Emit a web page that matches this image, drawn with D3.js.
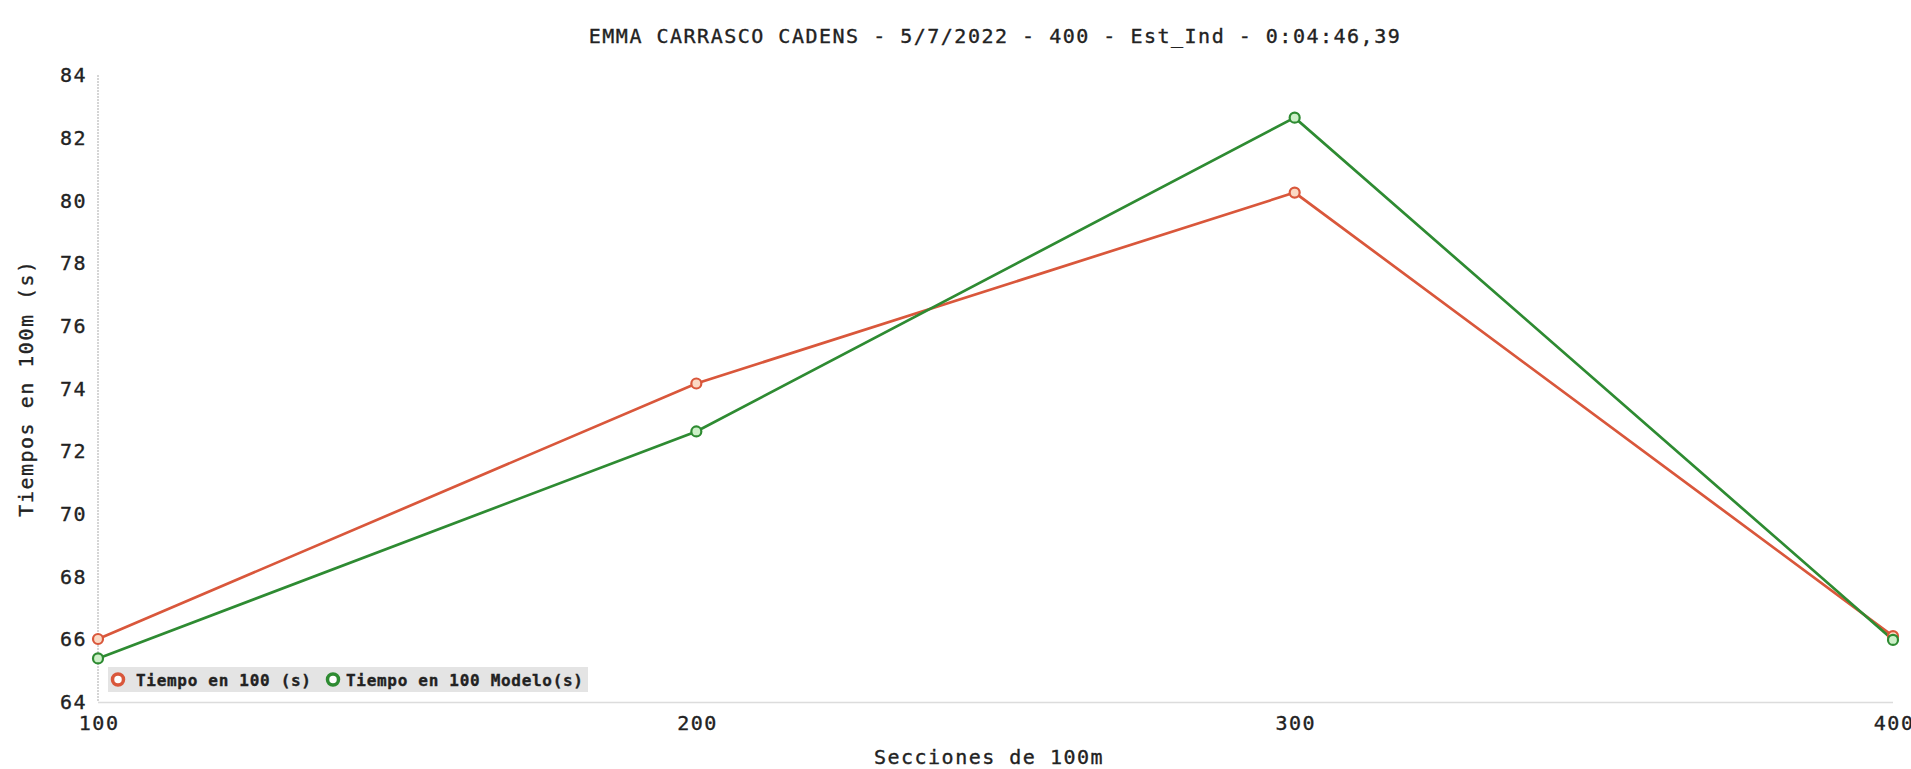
<!DOCTYPE html>
<html>
<head>
<meta charset="utf-8">
<script src="https://cdn.jsdelivr.net/npm/d3@7"></script>
<style>
  html, body { margin: 0; padding: 0; background: #fff; }
  svg { display: block; }
  text { font-family: "DejaVu Sans Mono", monospace; fill: #222; stroke: #222; stroke-width: 0.35px; }
</style>
</head>
<body>
<svg id="chart" width="1911" height="769"></svg>
<script>
const title = "EMMA CARRASCO CADENS - 5/7/2022 - 400 - Est_Ind - 0:04:46,39";
const sections = [100, 200, 300, 400];
const tiempo = [66.01, 74.16, 80.25, 66.1];
const tiempoModelo = [65.39, 72.63, 82.64, 65.98];
const yTicks = [64, 66, 68, 70, 72, 74, 76, 78, 80, 82, 84];
const seriesNames = ["Tiempo en 100 (s)", "Tiempo en 100 Modelo(s)"];
const xLabel = "Secciones de 100m";
const yLabel = "Tiempos en 100m (s)";

const colors = ["#d9573b", "#2e8b32"];
const fills = ["#fbd9c4", "#cdf0c8"];

const svg = d3.select("#chart");
const x = d3.scaleLinear().domain([100, 400]).range([98, 1893]);
const y = d3.scaleLinear().domain([64, 84]).range([702, 75]);

// title
svg.append("text").attr("x", 995).attr("y", 43).attr("text-anchor", "middle")
  .style("font-size", "20px").style("letter-spacing", "1.5px").text(title);

// axes lines
svg.append("line").attr("x1", x(100)).attr("x2", x(100)).attr("y1", y(84)).attr("y2", y(64))
  .attr("stroke", "#c8c8c8").attr("stroke-width", 1.5).attr("stroke-dasharray", "2,1");
svg.append("line").attr("x1", x(100)).attr("x2", x(400)).attr("y1", y(64) + 0.5).attr("y2", y(64) + 0.5)
  .attr("stroke", "#dcdcdc").attr("stroke-width", 1.5);

// y axis ticks
const yAxis = d3.axisLeft(y).tickValues(yTicks).tickSize(0).tickPadding(11).tickFormat(d3.format("d"));
const gy = svg.append("g").attr("transform", `translate(${x(100)},0)`).call(yAxis);
gy.select(".domain").remove();
gy.selectAll("text").style("font-size", "20px").style("letter-spacing", "1.5px")
  .attr("fill", "#222").attr("dy", "0.33em");

// x axis ticks
const xAxis = d3.axisBottom(x).tickValues(sections).tickSize(0).tickPadding(14).tickFormat(d3.format("d"));
const gx = svg.append("g").attr("transform", `translate(0,${y(64)})`).call(xAxis);
gx.select(".domain").remove();
gx.selectAll("text").style("font-size", "20px").style("letter-spacing", "1.5px")
  .attr("fill", "#222").attr("text-anchor", "middle").attr("dx", "0.6px");

// axis labels
svg.append("text").attr("x", 989).attr("y", 764).attr("text-anchor", "middle")
  .style("font-size", "20px").style("letter-spacing", "1.5px").text(xLabel);
svg.append("text").attr("transform", "translate(33,388) rotate(-90)").attr("text-anchor", "middle")
  .style("font-size", "20px").style("letter-spacing", "1.5px").text(yLabel);

// lines
const series = [tiempo, tiempoModelo];
const line = d3.line().x((d, i) => x(sections[i])).y(d => y(d));
series.forEach((vals, si) => {
  svg.append("path").datum(vals).attr("d", line).attr("fill", "none")
    .attr("stroke", colors[si]).attr("stroke-width", 2.7).attr("stroke-linejoin", "miter");
});
series.forEach((vals, si) => {
  svg.append("g").selectAll("circle").data(vals).join("circle")
    .attr("cx", (d, i) => x(sections[i])).attr("cy", d => y(d)).attr("r", 5)
    .attr("fill", fills[si]).attr("stroke", colors[si]).attr("stroke-width", 2.2);
});

// legend
const lg = svg.append("g");
lg.append("rect").attr("x", 108).attr("y", 667).attr("width", 480).attr("height", 25)
  .attr("fill", "#e4e4e4");
const legendItems = [{x: 118, tx: 136}, {x: 333, tx: 346}];
seriesNames.forEach((name, i) => {
  lg.append("circle").attr("cx", legendItems[i].x).attr("cy", 679.5).attr("r", 5.5)
    .attr("fill", "#fff").attr("stroke", colors[i]).attr("stroke-width", 3.5);
  lg.append("text").attr("x", legendItems[i].tx).attr("y", 685.5)
    .style("font-size", "16px").style("font-weight", "bold").style("letter-spacing", "0.7px")
    .text(name);
});
</script>
</body>
</html>
